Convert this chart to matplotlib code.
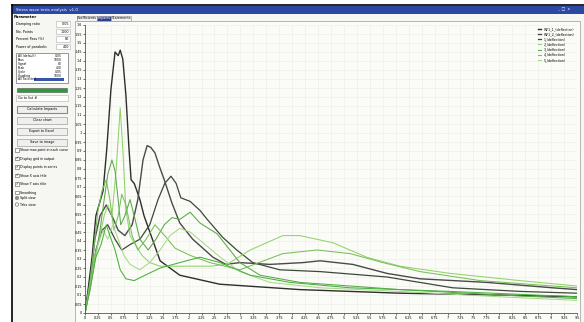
import matplotlib
matplotlib.use("Agg")
import matplotlib.pyplot as plt
from matplotlib.patches import Rectangle
import numpy as np

# ---- data (time vs. deflection) ----
a_x = [0, 0.06, 0.14, 0.21, 0.27, 0.35, 0.42, 0.50, 0.58, 0.64, 0.68, 0.73, 0.79, 0.85, 0.89, 0.95, 1.00, 1.06, 1.14, 1.45, 1.83, 2.6, 4.15, 6.08, 8.0, 9.5]
a_y = [0, 0.13, 0.32, 0.54, 0.60, 0.68, 0.91, 1.24, 1.45, 1.43, 1.46, 1.41, 1.21, 0.91, 0.74, 0.72, 0.68, 0.63, 0.54, 0.29, 0.21, 0.16, 0.13, 0.11, 0.10, 0.09]

b_x = [0, 0.1, 0.19, 0.29, 0.41, 0.52, 0.64, 0.77, 0.91, 1.02, 1.12, 1.20, 1.27, 1.35, 1.43, 1.53, 1.68, 1.83, 2.08, 2.47, 2.72, 2.99, 3.57, 4.21, 4.54, 5.17, 5.83, 6.47, 7.76, 9.03, 9.5]
b_y = [0, 0.18, 0.41, 0.54, 0.60, 0.54, 0.46, 0.43, 0.49, 0.63, 0.85, 0.93, 0.92, 0.89, 0.82, 0.74, 0.61, 0.50, 0.41, 0.31, 0.27, 0.28, 0.27, 0.28, 0.29, 0.27, 0.22, 0.19, 0.17, 0.14, 0.13]

c_x = [0, 0.1, 0.21, 0.33, 0.44, 0.58, 0.71, 0.87, 1.06, 1.25, 1.41, 1.54, 1.66, 1.76, 1.85, 2.03, 2.22, 2.36, 2.66, 2.93, 3.24, 3.76, 4.54, 5.83, 7.10, 8.40, 9.5]
c_y = [0, 0.16, 0.35, 0.46, 0.49, 0.41, 0.35, 0.38, 0.41, 0.49, 0.63, 0.72, 0.76, 0.72, 0.64, 0.62, 0.57, 0.52, 0.42, 0.35, 0.28, 0.24, 0.23, 0.20, 0.14, 0.12, 0.11]

g1_x = [0, 0.1, 0.19, 0.29, 0.37, 0.44, 0.52, 0.6, 0.68, 0.73, 0.79, 0.87, 0.97, 1.10, 1.25, 1.45, 1.83, 2.41, 2.74, 3.19, 3.82, 4.15, 4.79, 5.44, 6.08, 7.05, 8.4, 9.5]
g1_y = [0, 0.16, 0.32, 0.43, 0.54, 0.60, 0.54, 0.79, 1.14, 0.91, 0.57, 0.43, 0.38, 0.32, 0.28, 0.26, 0.26, 0.26, 0.27, 0.35, 0.43, 0.43, 0.39, 0.31, 0.26, 0.22, 0.18, 0.15]

g2_x = [0, 0.1, 0.19, 0.29, 0.37, 0.44, 0.52, 0.58, 0.64, 0.69, 0.77, 0.87, 0.95, 1.06, 1.22, 1.37, 1.53, 1.68, 1.83, 2.03, 2.22, 2.55, 2.99, 3.38, 4.15, 6.08, 8.01, 9.5]
g2_y = [0, 0.13, 0.29, 0.46, 0.63, 0.77, 0.85, 0.79, 0.63, 0.49, 0.54, 0.63, 0.54, 0.41, 0.35, 0.41, 0.49, 0.53, 0.52, 0.56, 0.50, 0.44, 0.28, 0.21, 0.17, 0.13, 0.10, 0.08]

g3_x = [0, 0.1, 0.19, 0.25, 0.33, 0.41, 0.48, 0.56, 0.64, 0.71, 0.79, 0.91, 1.02, 1.18, 1.35, 1.54, 1.74, 2.03, 2.41, 2.99, 3.82, 4.48, 5.12, 5.75, 6.47, 7.63, 9.5]
g3_y = [0, 0.18, 0.41, 0.57, 0.68, 0.74, 0.63, 0.46, 0.54, 0.66, 0.60, 0.43, 0.35, 0.41, 0.49, 0.43, 0.36, 0.32, 0.28, 0.24, 0.33, 0.35, 0.33, 0.28, 0.23, 0.18, 0.14]

g4_x = [0, 0.14, 0.25, 0.35, 0.44, 0.54, 0.64, 0.75, 0.87, 1.06, 1.25, 1.45, 1.64, 1.83, 2.03, 2.32, 2.61, 2.99, 3.57, 4.54, 6.08, 8.01, 9.5]
g4_y = [0, 0.21, 0.38, 0.46, 0.41, 0.49, 0.41, 0.32, 0.27, 0.24, 0.28, 0.35, 0.43, 0.47, 0.45, 0.38, 0.31, 0.23, 0.17, 0.14, 0.12, 0.09, 0.07]

g5_x = [0, 0.1, 0.21, 0.31, 0.41, 0.48, 0.58, 0.68, 0.79, 0.95, 1.16, 1.45, 1.83, 2.22, 2.61, 3.19, 3.96, 5.12, 7.05, 9.5]
g5_y = [0, 0.14, 0.31, 0.38, 0.49, 0.43, 0.35, 0.24, 0.19, 0.18, 0.21, 0.25, 0.28, 0.31, 0.28, 0.21, 0.17, 0.14, 0.12, 0.09]

series = [
    ("WF1_1_(deflection)", a_x, a_y, "#2e2e2e", 1.0),
    ("WF1_2_(deflection)", b_x, b_y, "#4a4a4a", 1.0),
    ("1_(deflection)", c_x, c_y, "#3d4a3a", 0.9),
    ("2_(deflection)", g1_x, g1_y, "#8fd46a", 0.75),
    ("3_(deflection)", g2_x, g2_y, "#5aa848", 0.75),
    ("4_(deflection)", g3_x, g3_y, "#78bf5a", 0.75),
    ("5_(deflection)", g4_x, g4_y, "#a8d88a", 0.75),
    (None, g5_x, g5_y, "#46b03c", 0.75),
]

fields = ["Damping ratio", "No. Points", "Percent Pass (%)", "Power of parabolic"]
field_vals = ["0.05", "1000", "80", "400"]
list_items = ["All (default)", "Pass", "Signal", "Peak", "Cycle", "Coupling"]
buttons = ["Calculate Impacts", "Clear chart", "Export to Excel", "Save to image"]
checks = ["Show max point in each curve", "Display grid in output", "Display points in series",
          "Show X axis title", "Show Y axis title", "Smoothing"]
radios = ["Split view", "Tabs view"]
tabs = ["Coefficients", "Impacts", "Statements"]

W, H = 584, 322
fig = plt.figure(figsize=(W / 100, H / 100), dpi=100)
fig.patch.set_facecolor("white")

# ---- window chrome, drawn in pixel coordinates ----
ui = fig.add_axes([0, 0, 1, 1])
ui.set_xlim(0, W)
ui.set_ylim(H, 0)
ui.axis("off")

ui.add_patch(Rectangle((12, 5), W - 12, H, facecolor="#f6f6f2", edgecolor="none"))
ui.plot([12, W], [5, 5], color="black", lw=1.2)
ui.plot([12, 12], [5, H], color="black", lw=1.2)
ui.add_patch(Rectangle((12, 5.5), W - 12, 8.5, facecolor="#2a48a4", edgecolor="none"))
ui.text(16, 9.8, "Stress wave tests analysis  v1.0", fontsize=2.8, color="white", va="center")
ui.text(W - 14, 9.8, "_  \u25a1  x", fontsize=2.8, color="white", va="center", ha="right")

# left control panel
ui.text(14, 17, "Parameter", fontsize=2.8, fontweight="bold", va="center")
for i, (f, v) in enumerate(zip(fields, field_vals)):
    y = 24 + i * 7.5
    ui.text(16, y, f, fontsize=2.4, va="center")
    ui.add_patch(Rectangle((56, y - 2.6), 14, 5.2, facecolor="white", edgecolor="#b0b0b0", lw=0.4))
    ui.text(69, y, v, fontsize=2.4, va="center", ha="right")

ui.add_patch(Rectangle((16, 53), 52, 30, facecolor="white", edgecolor="#707070", lw=0.5))
for i, it in enumerate(list_items):
    ui.text(18, 56 + i * 3.9, it, fontsize=2.2, va="center")
    ui.text(62, 56 + i * 3.9, field_vals[i % 4], fontsize=2.2, va="center", ha="right")
ui.add_patch(Rectangle((34, 77.5), 30, 3.6, facecolor="#3856a8", edgecolor="none"))
ui.text(18, 79.3, "All Selected", fontsize=2.2, va="center")

ui.add_patch(Rectangle((17, 88), 50, 4, facecolor="#2d9a3e", edgecolor="#555555", lw=0.4))
ui.add_patch(Rectangle((16, 95), 52, 6, facecolor="white", edgecolor="#b0b0b0", lw=0.4))
ui.text(18, 98, "Go to list #", fontsize=2.4, va="center")

for i, b in enumerate(buttons):
    y = 109 + i * 11
    ui.add_patch(Rectangle((17, y - 3.5), 50, 7, facecolor="#efefef", edgecolor="#8a8a8a",
                           lw=0.8 if i == 0 else 0.4))
    ui.text(42, y, b, fontsize=2.4, va="center", ha="center")

for i, c in enumerate(checks):
    y = 150 + i * 8.5
    ui.add_patch(Rectangle((15, y - 1.8), 3.6, 3.6, facecolor="white", edgecolor="#555555", lw=0.4))
    if i in (1, 2, 3, 4):
        ui.text(16.8, y, "\u2713", fontsize=2.6, va="center", ha="center")
    ui.text(20, y, c, fontsize=2.3, va="center")

for i, r in enumerate(radios):
    y = 198 + i * 6.5
    ui.add_patch(plt.Circle((17, y), 1.7, facecolor="white", edgecolor="#555555", lw=0.4))
    if i == 0:
        ui.add_patch(plt.Circle((17, y), 0.8, facecolor="#222222"))
    ui.text(20, y, r, fontsize=2.3, va="center")

# tabs and chart frame
tab_x = 77
for i, t in enumerate(tabs):
    w = 20 if i != 1 else 14
    sel = i == 1
    ui.add_patch(Rectangle((tab_x, 15.5), w, 5.5, facecolor="#2b3f8c" if sel else "#f2f2f2",
                           edgecolor="#909090", lw=0.4))
    ui.text(tab_x + w / 2, 18.3, t, fontsize=2.4, va="center", ha="center",
            color="white" if sel else "black")
    tab_x += w
ui.add_patch(Rectangle((75, 21), 505, 305, facecolor="#fbfbf7", edgecolor="#9a9a9a", lw=0.5))

# ---- the chart ----
ax = fig.add_axes([85 / W, (H - 313) / H, 492 / W, 288 / H])
ax.set_facecolor("#fbfbf7")

for name, xs, ys, col, lw in series:
    ax.plot(xs, ys, color=col, lw=lw, label=name)

xt = np.arange(0, 9.51, 0.25)
yt = np.arange(0, 1.601, 0.05)
ax.set_xlim(0, 9.5)
ax.set_ylim(0, 1.6)
ax.set_xticks(xt)
ax.set_yticks(yt)
ax.set_xticklabels([f"{v:g}" for v in xt], fontsize=2.4)
ax.set_yticklabels([f"{v:.2f}".rstrip("0").rstrip(".") for v in yt], fontsize=2.4)
ax.tick_params(length=1.2, width=0.4, pad=1)
ax.grid(True, color="#eeeee8", lw=0.4)
for s in ["top", "right"]:
    ax.spines[s].set_visible(False)
for s in ["left", "bottom"]:
    ax.spines[s].set_color("#555555")
    ax.spines[s].set_linewidth(0.6)

ax.legend(loc="upper right", fontsize=2.3, frameon=False, handlelength=1.2,
          labelspacing=0.35, borderaxespad=0.3)

fig.savefig("out.png", dpi=100)
